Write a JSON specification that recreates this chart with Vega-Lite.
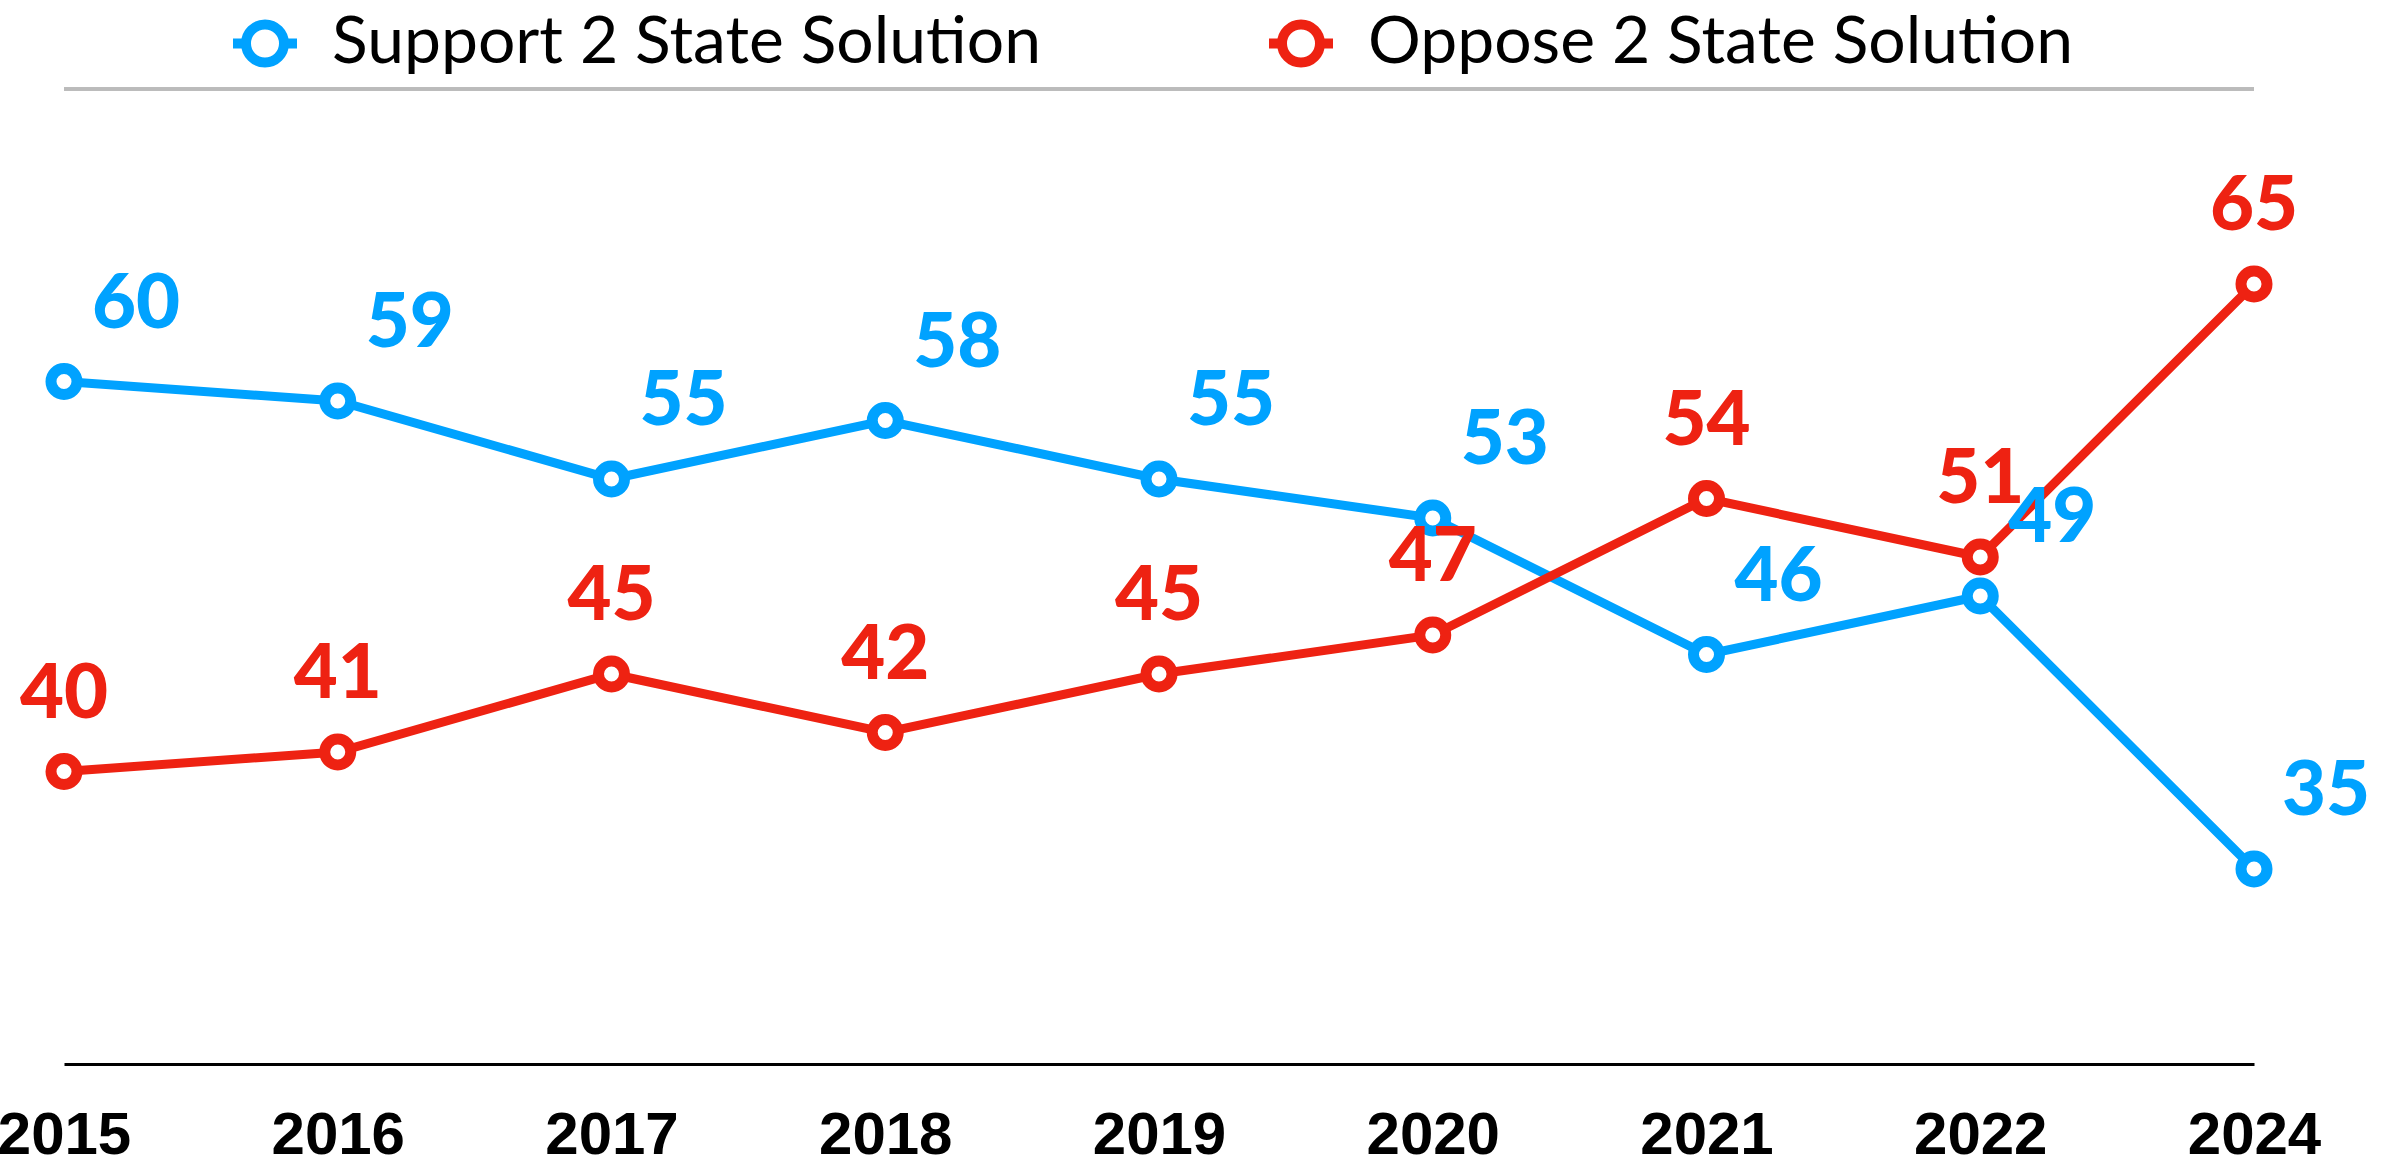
{
  "$schema": "https://vega.github.io/schema/vega-lite/v6.json",
  "autosize": {"type": "none"},
  "padding": {"left": 64, "top": 89, "right": 145, "bottom": 101},
  "width": 2190,
  "height": 975,
  "background": "white",
  "config": {"view": {"stroke": null}},
  "data": {
    "values": [
      {"year": "2015", "series": "Support 2 State Solution", "value": 60},
      {"year": "2016", "series": "Support 2 State Solution", "value": 59},
      {"year": "2017", "series": "Support 2 State Solution", "value": 55},
      {"year": "2018", "series": "Support 2 State Solution", "value": 58},
      {"year": "2019", "series": "Support 2 State Solution", "value": 55},
      {"year": "2020", "series": "Support 2 State Solution", "value": 53},
      {"year": "2021", "series": "Support 2 State Solution", "value": 46},
      {"year": "2022", "series": "Support 2 State Solution", "value": 49},
      {"year": "2024", "series": "Support 2 State Solution", "value": 35},
      {"year": "2015", "series": "Oppose 2 State Solution", "value": 40},
      {"year": "2016", "series": "Oppose 2 State Solution", "value": 41},
      {"year": "2017", "series": "Oppose 2 State Solution", "value": 45},
      {"year": "2018", "series": "Oppose 2 State Solution", "value": 42},
      {"year": "2019", "series": "Oppose 2 State Solution", "value": 45},
      {"year": "2020", "series": "Oppose 2 State Solution", "value": 47},
      {"year": "2021", "series": "Oppose 2 State Solution", "value": 54},
      {"year": "2022", "series": "Oppose 2 State Solution", "value": 51},
      {"year": "2024", "series": "Oppose 2 State Solution", "value": 65}
    ]
  },
  "encoding": {
    "x": {
      "field": "year", "type": "ordinal",
      "scale": {"type": "point", "padding": 0},
      "axis": {
        "title": null, "labelAngle": 0, "ticks": false, "grid": false,
        "domainColor": "#000000", "domainWidth": 3,
        "labelFont": "Liberation Sans", "labelFontWeight": "bold", "labelFontSize": 60,
        "labelColor": "#000000", "labelPadding": 42, "labelBaseline": "top"
      }
    },
    "y": {
      "field": "value", "type": "quantitative",
      "scale": {"domain": [25, 75], "nice": false, "zero": false},
      "axis": null
    }
  },
  "layer": [
    {
      "mark": {"type": "rule", "color": "#bbbbbb", "strokeWidth": 3},
      "encoding": {"y": {"datum": 75}, "x": null}
    },
    {
      "mark": {"type": "line", "strokeWidth": 9},
      "encoding": {
        "color": {
          "field": "series", "type": "nominal",
          "scale": {"domain": ["Support 2 State Solution", "Oppose 2 State Solution"], "range": ["#00a2ff", "#ee2212"]},
          "legend": {
            "title": null, "orient": "none", "direction": "horizontal",
            "legendX": 164, "legendY": -83,
            "symbolType": "M-1,0H-0.594M0.594,0H1M-0.594,0A0.594,0.594,0,1,1,0.594,0A0.594,0.594,0,1,1,-0.594,0Z",
            "symbolSize": 4096, "symbolStrokeWidth": 10, "symbolFillColor": "white",
            "labelFont": "Lato", "labelFontSize": 66, "labelColor": "#000000",
            "labelOffset": 30, "columnPadding": 207, "labelLimit": 2000
          }
        }
      }
    },
    {
      "mark": {"type": "point", "filled": false, "fill": "white", "size": 676, "strokeWidth": 11, "opacity": 1},
      "encoding": {
        "color": {"field": "series", "type": "nominal"}
      }
    },
    {
      "transform": [{"filter": "datum.series === 'Support 2 State Solution'"}],
      "mark": {"type": "text", "color": "#00a2ff", "font": "Lato", "fontWeight": 900, "fontSize": 76, "dx": 72, "dy": -77, "align": "center", "baseline": "middle"},
      "encoding": {"text": {"field": "value", "type": "quantitative"}}
    },
    {
      "transform": [{"filter": "datum.series === 'Oppose 2 State Solution'"}],
      "mark": {"type": "text", "color": "#ee2212", "font": "Lato", "fontWeight": 900, "fontSize": 76, "dx": 0, "dy": -77, "align": "center", "baseline": "middle"},
      "encoding": {"text": {"field": "value", "type": "quantitative"}}
    }
  ]
}
